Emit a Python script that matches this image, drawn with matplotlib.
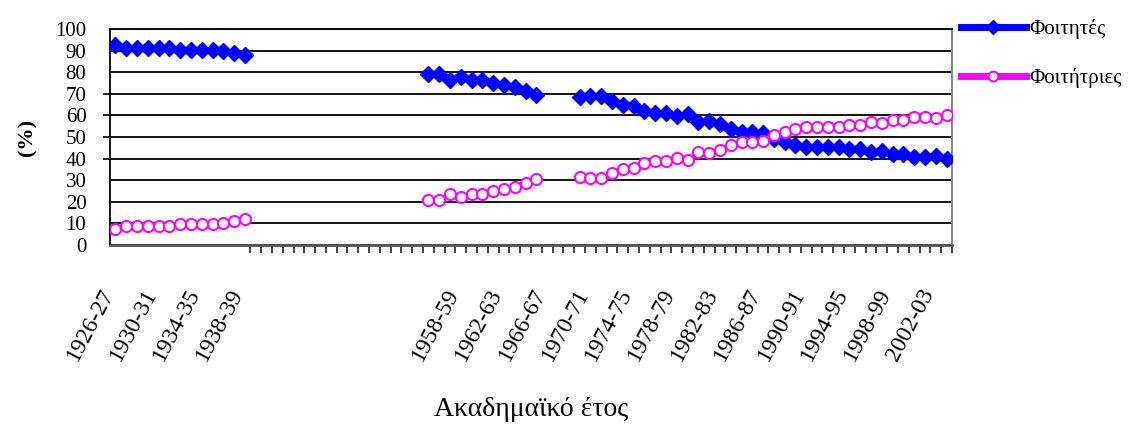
import numpy as np
import pandas as pd
import matplotlib
matplotlib.use("Agg")
import matplotlib.pyplot as plt
from matplotlib.lines import Line2D
from matplotlib.transforms import ScaledTranslation

plt.rcParams["font.family"] = ["Liberation Serif", "DejaVu Serif"]

# academic years along the category axis
seasons = [f"{y}-{(y + 1) % 100:02d}" for y in range(1926, 2004)]

# share of students by sex (%), three runs of years with records
first_years = ["1926-27", "1955-56", "1969-70"]

male_a = [92.6, 91.3, 91.1, 91.1, 91.0, 91.1, 90.3, 90.3, 90.2, 90.2, 89.9, 88.9, 88.0]
female_a = [7.4, 8.7, 8.9, 8.9, 9.0, 8.9, 9.7, 9.7, 9.8, 9.8, 10.1, 11.1, 12.0]

male_b = [79.2, 79.0, 76.6, 77.6, 76.6, 76.4, 75.2, 74.2, 73.1, 71.5, 69.6]
female_b = [20.8, 21.0, 23.4, 22.4, 23.4, 23.6, 24.8, 25.8, 26.9, 28.5, 30.4]

male_c = [68.7, 69.1, 69.1, 66.8, 64.9, 64.5, 62.1, 61.0, 61.0, 59.6,
          60.8, 57.0, 57.4, 56.1, 53.6, 52.1, 52.1, 51.9, 49.3, 47.5,
          46.3, 45.4, 45.4, 45.4, 45.4, 44.6, 44.6, 43.0, 43.4, 42.3,
          41.9, 40.7, 40.7, 41.1, 39.7]
female_c = [31.3, 30.9, 30.9, 33.2, 35.1, 35.5, 37.9, 39.0, 39.0, 40.4,
            39.2, 43.0, 42.6, 43.9, 46.4, 47.9, 47.9, 48.1, 50.7, 52.5,
            53.7, 54.6, 54.6, 54.6, 54.6, 55.4, 55.4, 57.0, 56.6, 57.7,
            58.1, 59.3, 59.3, 58.9, 60.3]

tick_labels = ["1926-27", "1930-31", "1934-35", "1938-39",
               "1958-59", "1962-63", "1966-67", "1970-71", "1974-75",
               "1978-79", "1982-83", "1986-87", "1990-91", "1994-95",
               "1998-99", "2002-03"]


def build(parts):
    s = pd.Series(np.nan, index=seasons)
    for start, vals in zip(first_years, parts):
        i = seasons.index(start)
        s.iloc[i:i + len(vals)] = vals
    return s


male = build([male_a, male_b, male_c])
female = build([female_a, female_b, female_c])
x = np.arange(len(seasons))

fig = plt.figure(figsize=(11.39, 4.26), dpi=100)
ax = fig.add_axes([110 / 1139, 1 - 245 / 426, 842 / 1139, 216 / 426])

ax.plot(x, male.values, color="#0000ff", lw=4, marker="D", ms=8,
        mfc="#0000ff", mec="#0000ff", mew=1, zorder=3)
ax.plot(x, female.values, color="#ff00ff", lw=3, marker="o", ms=8,
        mfc="white", mec="#ff00ff", mew=1.5, zorder=4)

ax.set_xlim(-0.5, len(seasons) - 0.5)
ax.set_ylim(0, 100)
ax.set_yticks(range(0, 101, 10))
ax.yaxis.grid(True, color="black", lw=1.3)
ax.set_axisbelow(True)

# y ticks: only a few carry outward marks
ax.tick_params(axis="y", length=5, width=1.2, pad=12, labelsize=15)
for val, t in zip(range(0, 101, 10), ax.yaxis.get_major_ticks()):
    if val not in (40, 50, 60, 70):
        t.tick1line.set_visible(False)

# x ticks: labels every four years, boundary marks after the first run
pos = [seasons.index(s) for s in tick_labels]
ax.set_xticks(pos, tick_labels, rotation=62, ha="right", va="top",
              rotation_mode="anchor", fontsize=17)
ax.tick_params(axis="x", which="major", length=0, pad=0)
ax.set_xticks(np.arange(12.5, len(seasons), 1.0), minor=True)
ax.tick_params(axis="x", which="minor", length=6, width=1.2, color="#222222")
offset = ScaledTranslation(-0.16, -0.40, fig.dpi_scale_trans)
for lbl in ax.get_xticklabels():
    lbl.set_transform(lbl.get_transform() + offset)

for side in ("left", "top"):
    ax.spines[side].set_color("black")
    ax.spines[side].set_linewidth(1.3)
ax.spines["bottom"].set_color("#555555")
ax.spines["bottom"].set_linewidth(2)
ax.spines["right"].set_color("#888888")
ax.spines["right"].set_linewidth(1.5)

ax.set_xlabel("Ακαδημαϊκό έτος", fontsize=20, va="center")
ax.xaxis.set_label_coords(0.5, (245 - 410) / 216)
ax.set_ylabel("(%)", fontsize=16, fontweight="bold", va="center")
ax.yaxis.set_label_coords((27 - 110) / 842, 0.5)

handles = [
    Line2D([], [], color="#0000ff", lw=5, marker="D", ms=7, mfc="#0000ff", mec="#0000ff"),
    Line2D([], [], color="#ff00ff", lw=5, marker="o", ms=7, mfc="white", mec="#ff00ff", mew=1.5),
]
fig.legend(handles, ["Φοιτητές", "Φοιτήτριες"], loc="upper left",
           bbox_to_anchor=(961 / 1139, 1 - 19 / 426), frameon=False,
           fontsize=15, handlelength=3.1, handletextpad=0.2, labelspacing=1.4,
           borderpad=0, borderaxespad=0)

fig.savefig("out.png", dpi=100)
